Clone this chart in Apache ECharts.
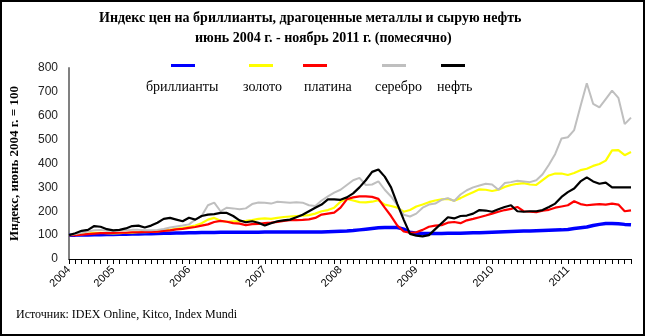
<!DOCTYPE html>
<html>
<head>
<meta charset="utf-8">
<script src="https://cdn.jsdelivr.net/npm/echarts@6/dist/echarts.min.js"></script>
<style>
html,body{margin:0;padding:0;background:#fff;}
#chart{width:645px;height:336px;}
</style>
</head>
<body>
<div id="chart"></div>
<script>
// Monthly categories, June 2004 - November 2011
const categories = [
  "2004-06","2004-07","2004-08","2004-09","2004-10","2004-11","2004-12",
  "2005-01","2005-02","2005-03","2005-04","2005-05","2005-06","2005-07","2005-08","2005-09","2005-10","2005-11","2005-12",
  "2006-01","2006-02","2006-03","2006-04","2006-05","2006-06","2006-07","2006-08","2006-09","2006-10","2006-11","2006-12",
  "2007-01","2007-02","2007-03","2007-04","2007-05","2007-06","2007-07","2007-08","2007-09","2007-10","2007-11","2007-12",
  "2008-01","2008-02","2008-03","2008-04","2008-05","2008-06","2008-07","2008-08","2008-09","2008-10","2008-11","2008-12",
  "2009-01","2009-02","2009-03","2009-04","2009-05","2009-06","2009-07","2009-08","2009-09","2009-10","2009-11","2009-12",
  "2010-01","2010-02","2010-03","2010-04","2010-05","2010-06","2010-07","2010-08","2010-09","2010-10","2010-11","2010-12",
  "2011-01","2011-02","2011-03","2011-04","2011-05","2011-06","2011-07","2011-08","2011-09","2011-10","2011-11"
];
const yearLabels = ["2004","2005","2006","2007","2008","2009","2010","2011"];
const yTicks = [0,100,200,300,400,500,600,700,800];

const seriesNames = ["бриллианты","золото","платина","серебро","нефть"];

const diamonds = [
  100,100,101,101,102,102,103,103,104,104,105,105,106,106,107,108,108,109,109,110,
  110,111,111,111,112,112,112,112,112,112,112,113,113,113,113,113,113,113,113,113,
  113,114,115,116,117,119,122,125,128,131,132,132,132,125,112,108,107,107,107,107,
  108,108,108,109,110,110,111,112,113,114,115,116,117,117,118,119,120,121,122,124,
  128,131,134,140,145,149,149,148,145,143
];
const gold = [
  100,102,104,106,110,110,108,107,108,110,110,112,112,114,116,120,122,126,130,135,
  140,150,165,172,160,156,158,158,160,163,168,170,168,172,176,178,180,182,184,190,
  200,205,215,240,252,245,238,237,240,246,228,222,215,198,205,220,228,238,245,250,
  252,244,255,268,280,292,290,285,290,302,310,315,318,312,310,330,350,358,358,352,
  360,372,378,390,398,412,455,456,435,448
];
const platinum = [
  100,100,102,104,106,108,108,109,110,110,112,112,113,114,115,118,120,124,126,130,
  134,140,145,155,160,156,150,148,142,146,147,150,152,155,160,163,163,164,166,172,
  186,190,194,215,250,258,262,262,260,252,215,180,140,115,110,112,122,135,140,142,
  152,155,150,162,168,175,182,190,198,205,210,218,200,198,196,202,206,215,220,225,
  242,230,225,228,230,228,232,228,200,204
];
const silver = [
  100,105,110,115,120,122,118,118,120,120,122,122,120,120,122,126,132,136,140,145,
  165,180,225,236,200,215,212,208,212,230,237,236,232,240,238,236,238,236,225,222,
  245,262,278,290,310,330,340,310,312,325,290,262,225,185,178,190,215,228,232,248,
  255,243,270,288,300,308,315,312,290,318,322,328,325,322,330,355,395,440,505,510,
  540,640,736,650,635,670,705,675,565,592
];
const oil = [
  100,108,118,122,138,135,125,120,122,128,138,140,132,140,152,168,172,165,158,173,
  165,180,186,188,193,193,180,162,154,158,152,140,150,158,162,165,175,185,200,215,
  228,250,250,248,258,275,300,330,365,375,345,300,230,165,105,98,95,100,125,150,
  175,170,180,182,190,205,203,198,208,218,225,200,198,200,200,205,218,232,260,280,
  295,325,342,325,315,320,300,300,300,300
];

const colors = ["#0000ff","#ffff00","#ff0000","#bfbfbf","#000000"];
const values = [diamonds, gold, platinum, silver, oil];
const widths = [3.5, 2.2, 2.2, 2, 2.2];

const chart = echarts.init(document.getElementById('chart'), null, {renderer:'canvas'});

const iconLefts = [171, 249, 303, 382, 441];
const textLefts = [140, 237, 298, 369, 431];

const legends = [];
seriesNames.forEach((n, i) => {
  legends.push({
    data:[n], left: iconLefts[i], top: 64, icon:'rect', itemWidth: 24, itemHeight: 3,
    selectedMode:false, formatter: () => '', itemGap: 0, padding: 0,
    textStyle:{fontSize:1}
  });
  legends.push({
    data:[n], left: textLefts[i], top: 80, icon:'rect', itemWidth: 1, itemHeight: 1,
    selectedMode:false, itemGap: 0, padding: 0,
    itemStyle:{opacity:0},
    textStyle:{fontFamily:'Liberation Serif', fontSize:14, color:'#000'}
  });
});

const option = {
  backgroundColor:'#ffffff',
  animation:false,
  title:[
    {text:'Индекс цен на бриллианты, драгоценные металлы и сырую нефть', left:99, top:11,
     padding:0, textStyle:{fontFamily:'Liberation Serif', fontWeight:'bold', fontSize:14, color:'#000'}},
    {text:'июнь 2004 г. - ноябрь 2011 г. (помесячно)', left:195, top:31,
     padding:0, textStyle:{fontFamily:'Liberation Serif', fontWeight:'bold', fontSize:14, color:'#000'}},
    {text:'Источник: IDEX Online, Kitco, Index Mundi', left:16, top:309,
     padding:0, textStyle:{fontFamily:'Liberation Serif', fontWeight:'normal', fontSize:12, color:'#000'}}
  ],
  legend: legends,
  grid:{left:66, right:14, top:68, bottom:77, containLabel:false},
  xAxis:{
    type:'category', data:categories, boundaryGap:false,
    axisLine:{show:true, lineStyle:{color:'#000', width:1}},
    axisTick:{show:true, interval:0, length:5, lineStyle:{color:'#000'}},
    axisLabel:{
      interval:(idx, val) => yearLabels.indexOf(val.slice(0,4)) >= 0 && (idx === 0 || val.slice(5) === '01'),
      formatter:(val) => val.slice(0,4),
      rotate:45, margin:9,
      fontFamily:'Liberation Sans', fontSize:11, color:'#000'
    },
    splitLine:{show:false}
  },
  yAxis:{
    type:'value', min:yTicks[0], max:yTicks[yTicks.length-1], interval:100,
    name:'Индекс, июнь 2004 г. = 100', nameLocation:'middle', nameRotate:90, nameGap:48,
    nameTextStyle:{fontFamily:'Liberation Serif', fontWeight:'bold', fontSize:13, color:'#000'},
    axisLine:{show:true, lineStyle:{color:'#808080', width:2}},
    axisTick:{show:false},
    axisLabel:{margin:11, fontFamily:'Liberation Sans', fontSize:12, color:'#222'},
    splitLine:{show:false}
  },
  series: seriesNames.map((n, i) => ({
    name:n, type:'line', data:values[i], showSymbol:false, symbol:'none',
    lineStyle:{color:colors[i], width:widths[i]}, itemStyle:{color:colors[i]},
    z: 2 + i
  })),
  graphic:[
    {type:'rect', shape:{x:1, y:1, width:643, height:334}, style:{fill:'none', stroke:'#000', lineWidth:2}, silent:true}
  ]
};
chart.setOption(option);
</script>
</body>
</html>
